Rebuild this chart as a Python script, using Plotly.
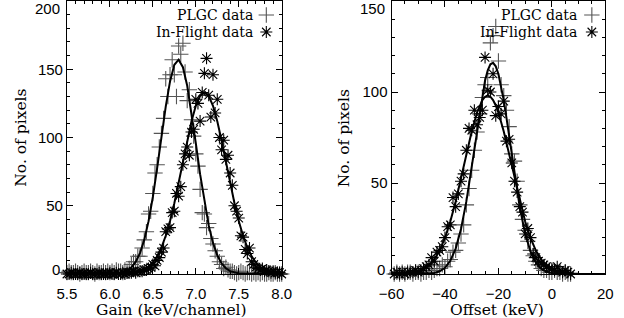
import plotly.graph_objects as go

# ---------------- data: left panel (gain) ----------------
gain_bins = [5.5, 5.525, 5.55, 5.575, 5.6, 5.625, 5.65, 5.675, 5.7, 5.725, 5.75, 5.775, 5.8, 5.825, 5.85,
             5.875, 5.9, 5.925, 5.95, 5.975, 6.0, 6.025, 6.05, 6.075, 6.1, 6.125, 6.15, 6.175, 6.2, 6.225,
             6.25, 6.275, 6.3, 6.325, 6.35, 6.375, 6.4, 6.425, 6.45, 6.475, 6.5, 6.525, 6.55, 6.575, 6.6,
             6.625, 6.65, 6.675, 6.7, 6.725, 6.75, 6.775, 6.8, 6.825, 6.85, 6.875, 6.9, 6.925, 6.95, 6.975,
             7.0, 7.025, 7.05, 7.075, 7.1, 7.125, 7.15, 7.175, 7.2, 7.225, 7.25, 7.275, 7.3, 7.325, 7.35,
             7.375, 7.4, 7.425, 7.45, 7.475, 7.5, 7.525, 7.55, 7.575, 7.6, 7.625, 7.65, 7.675, 7.7, 7.725,
             7.75, 7.775, 7.8, 7.825, 7.85, 7.875, 7.9, 7.925, 7.95, 7.975, 8.0]

gain_plgc = [1, 2, 1, 1, 2, 1, 0, 1, 2, 1, 1, 2, 1, 0, 2, 1, 1, 2, 1, 2, 1, 2, 1, 3, 2,
             2, 1, 3, 2, 4, 7, 9, 9, 13, 13, 19, 25, 31,
             44, 46, 59, 74, 80, 93, 103, 114, 143, 130, 146, 157, 146,
             130, 167, 161, 169, 148, 127, 135, 113, 101, 88, 79, 62, 45,
             44, 34, 37, 26, 22, 17, 13, 9, 7, 4, 5, 3, 2,
             2, 1, 0, 1, 2, 1, 0, 1, 1, 0, 1, 0, 1, 0, 1, 0, 0, 1, 0, 0, 1, 0, 0, 0]

gain_flight = [0, 0, 1, 0, 0, 0, 1, 0, 0, 0, 0, 1, 0, 0, 0, 1, 0, 0, 0, 0, 1, 0, 0, 1, 0, 0, 1, 0, 1,
               1, 1, 2, 1, 2, 2, 2, 3, 3, 4, 5, 7, 6,
               10, 12, 16, 19, 31, 33, 34, 45, 46, 59, 57, 64, 80,
               88, 93, 87, 104, 106, 128, 125, 112, 133, 147, 158, 131, 115,
               146, 118, 128, 100, 91, 98, 84, 87, 74, 65, 50, 46, 41,
               28, 27, 18, 15, 19, 9, 7, 5, 4, 3, 4, 2, 3,
               2, 1, 2, 1, 1, 1, 0]

# fitted curves
gain_fit_plgc_x = [5.5, 5.8, 6.0, 6.1, 6.15, 6.2, 6.25, 6.3, 6.35, 6.4, 6.45, 6.5, 6.55, 6.6, 6.65, 6.7,
                   6.75, 6.8, 6.85, 6.9, 6.95, 7.0, 7.05, 7.1, 7.15, 7.2, 7.25, 7.3, 7.35, 7.4, 7.45,
                   7.5, 7.6, 7.8, 8.0]
gain_fit_plgc_y = [0, 0, 0.1, 0.5, 1.2, 2.4, 4.8, 8.8, 15.3, 25.0, 38.7, 56.4, 77.5, 100.4, 122.6, 141.1,
                   153.3, 157.0, 151.5, 137.9, 118.3, 95.8, 73.1, 52.6, 35.6, 22.8, 13.7, 7.8, 4.2, 2.1,
                   1.0, 0.45, 0.08, 0, 0]
gain_fit_flight_x = [5.5, 6.0, 6.2, 6.3, 6.35, 6.4, 6.45, 6.5, 6.55, 6.6, 6.65, 6.7, 6.75, 6.8, 6.85,
                     6.9, 6.95, 7.0, 7.05, 7.1, 7.15, 7.2, 7.25, 7.3, 7.35, 7.4, 7.45, 7.5, 7.55, 7.6,
                     7.65, 7.7, 7.75, 7.8, 7.85, 7.9, 8.0]
gain_fit_flight_y = [0, 0.02, 0.26, 0.97, 1.76, 3.07, 5.16, 8.34, 12.98, 19.4, 28.0, 38.8, 51.8, 66.6,
                     82.2, 97.8, 111.9, 123.2, 130.5, 133.0, 130.5, 123.2, 111.9, 97.8, 82.2, 66.6,
                     51.8, 38.8, 28.0, 19.4, 12.98, 8.34, 5.16, 3.07, 1.76, 0.97, 0.26]

# ---------------- data: right panel (offset) ----------------
offset_bins = [-59, -58, -57, -56, -55, -54, -53, -52, -51, -50, -49, -48, -47, -46, -45,
               -44, -43, -42, -41, -40, -39, -38, -37, -36, -35, -34, -33, -32, -31, -30,
               -29, -28, -27, -26, -25, -24, -23, -22, -21, -20, -19, -18, -17, -16, -15,
               -14, -13, -12, -11, -10, -9, -8, -7, -6, -5, -4, -3, -2, -1, 0,
               1, 2, 3, 4, 5, 6, 7]

offset_plgc = [0, 1, 0, 1, 0, 1, 1, 0, 1, 1, 0, 1, 1, 2, 1,
               2, 3, 3, 5, 4, 7, 8, 12, 13, 17, 22, 27, 38, 47, 57,
               68, 78, 88, 97, 104, 108, 127, 131, 136, 117, 104, 98, 90, 81, 66,
               62, 51, 38, 30, 24, 18, 13, 10, 7, 5, 3, 2, 2, 1, 1,
               2, 1, 1, 0, 1, 0, 0]

offset_flight = [0, 1, 0, 1, 0, 1, 1, 1, 2, 1, 2, 3, 4, 5, 9,
                 7, 12, 13, 15, 20, 26, 27, 42, 37, 44, 51, 55, 68, 80, 79,
                 90, 82, 86, 90, 119, 101, 100, 110, 87, 92, 88, 95, 73, 74, 61,
                 51, 45, 37, 34, 22, 25, 20, 11, 9, 7, 6, 5, 4, 3, 3,
                 2, 4, 2, 1, 2, 1, 0]

offset_fit_plgc_x = [-60, -50, -48, -46, -44, -42, -40, -38, -36, -34, -32, -30, -28, -27, -26,
                     -25, -24, -23, -22, -21, -20, -19, -18, -17, -16, -14, -12, -10, -8, -6, -4,
                     -2, 0, 2, 4, 6, 20]
offset_fit_plgc_y = [0, 0.02, 0.07, 0.21, 0.59, 1.49, 3.43, 7.24, 13.98, 24.7, 39.9, 59.0, 79.8,
                     89.8, 98.8, 106.3, 111.9, 115.2, 116.0, 114.1, 109.9, 103.5, 95.4, 85.9, 75.7,
                     54.9, 36.5, 22.2, 12.3, 6.28, 2.92, 1.25, 0.48, 0.17, 0.06, 0.02, 0]
offset_fit_flight_x = [-60, -56, -52, -50, -48, -46, -44, -42, -40, -38, -36, -34, -32, -30, -28,
                       -27, -26, -25, -24, -23, -22, -21, -20, -18, -16, -14, -12, -10, -8, -6, -4,
                       -2, 0, 2, 4, 6, 8, 10, 20]
offset_fit_flight_y = [0.03, 0.16, 0.73, 1.43, 2.68, 4.76, 8.05, 12.9, 19.8, 28.8, 39.8, 52.5, 65.7,
                       78.3, 88.7, 92.6, 95.6, 97.4, 98.0, 97.4, 95.6, 92.6, 88.7, 78.3, 65.7, 52.5,
                       39.8, 28.8, 19.8, 12.9, 8.05, 4.76, 2.68, 1.43, 0.73, 0.35, 0.16, 0.07, 0]

gain_ticks = [5.5, 6.0, 6.5, 7.0, 7.5, 8.0]
gain_ticktext = ["5.5", "6.0", "6.5", "7.0", "7.5", "8.0"]
offset_ticks = [-60, -40, -20, 0, 20]
offset_ticktext = ["\u221260", "\u221240", "\u221220", "0", "20"]
left_yticks = [0, 50, 100, 150, 200]
left_yticktext = ["", "50", "100", "150", ""]
right_yticks = [0, 50, 100, 150]
right_yticktext = ["", "50", "100", ""]

legend_labels = ["PLGC data", "In-Flight data"]

# ---------------- styles ----------------
TICKFONT = dict(family="Liberation Sans", size=15, color="black")
TITLEFONT = dict(family="DejaVu Serif", size=15.5, color="black")
LEGFONT = dict(family="DejaVu Serif", size=14, color="black")
PLUS = dict(symbol="cross-thin-open", size=11, color="#555555", line=dict(width=1.1, color="#555555"))
STAR = dict(symbol="asterisk-open", size=10, color="black", line=dict(width=1.1, color="black"))
FITLINE = dict(color="black", width=2)

fig = go.Figure()

# left panel
fig.add_trace(go.Scatter(x=gain_bins, y=gain_plgc, mode="markers", marker=PLUS,
                         xaxis="x", yaxis="y", showlegend=False, cliponaxis=False))
fig.add_trace(go.Scatter(x=gain_bins, y=gain_flight, mode="markers", marker=STAR,
                         xaxis="x", yaxis="y", showlegend=False, cliponaxis=False))
fig.add_trace(go.Scatter(x=gain_fit_plgc_x, y=gain_fit_plgc_y, mode="lines", line=FITLINE,
                         xaxis="x", yaxis="y", showlegend=False))
fig.add_trace(go.Scatter(x=gain_fit_flight_x, y=gain_fit_flight_y, mode="lines", line=FITLINE,
                         xaxis="x", yaxis="y", showlegend=False))

# right panel
fig.add_trace(go.Scatter(x=offset_bins, y=offset_plgc, mode="markers", marker=PLUS,
                         xaxis="x2", yaxis="y2", showlegend=False, cliponaxis=False))
fig.add_trace(go.Scatter(x=offset_bins, y=offset_flight, mode="markers", marker=STAR,
                         xaxis="x2", yaxis="y2", showlegend=False, cliponaxis=False))
fig.add_trace(go.Scatter(x=offset_fit_plgc_x, y=offset_fit_plgc_y, mode="lines", line=FITLINE,
                         xaxis="x2", yaxis="y2", showlegend=False))
fig.add_trace(go.Scatter(x=offset_fit_flight_x, y=offset_fit_flight_y, mode="lines", line=FITLINE,
                         xaxis="x2", yaxis="y2", showlegend=False))

# legend keys (pixel overlay axes)
fig.add_trace(go.Scatter(x=[263, 601], y=[15, 15], mode="markers", marker=PLUS,
                         xaxis="x3", yaxis="y3", showlegend=False, cliponaxis=False))
fig.add_trace(go.Scatter(x=[263, 601], y=[32, 32], mode="markers", marker=STAR,
                         xaxis="x3", yaxis="y3", showlegend=False, cliponaxis=False))

W, H = 624, 318
ax_common = dict(showline=True, linecolor="black", linewidth=1, mirror="ticks", ticks="inside",
                 tickcolor="black", tickwidth=1, ticklen=6, showgrid=False, zeroline=False,
                 tickfont=TICKFONT, tickmode="array")

fig.update_layout(
    width=W, height=H, margin=dict(l=0, r=0, t=0, b=0),
    paper_bgcolor="white", plot_bgcolor="rgba(0,0,0,0)", showlegend=False,
    xaxis=dict(domain=[56 / W, 279 / W], range=[5.5, 8.0], anchor="y",
               tickvals=gain_ticks, ticktext=gain_ticktext, ticklabelstandoff=6,
               minor=dict(ticks="inside", ticklen=3, dtick=0.1, tick0=5.5, tickcolor="black", showgrid=False),
               **ax_common),
    yaxis=dict(domain=[(H - 274) / H, (H - 1) / H], range=[0, 200], anchor="x",
               tickvals=left_yticks, ticktext=left_yticktext,
               minor=dict(ticks="inside", ticklen=3, dtick=10, tick0=0, tickcolor="black", showgrid=False),
               **ax_common),
    xaxis2=dict(domain=[393 / W, 615 / W], range=[-60, 20], anchor="y2",
                tickvals=offset_ticks, ticktext=offset_ticktext, ticklabelstandoff=6,
                minor=dict(ticks="inside", ticklen=3, dtick=5, tick0=0, tickcolor="black", showgrid=False),
                **ax_common),
    yaxis2=dict(domain=[(H - 274) / H, (H - 1) / H], range=[0, 150], anchor="x2",
                tickvals=right_yticks, ticktext=right_yticktext,
                minor=dict(ticks="inside", ticklen=3, dtick=10, tick0=0, tickcolor="black", showgrid=False),
                **ax_common),
    xaxis3=dict(domain=[0, 1], range=[0, W], visible=False, anchor="y3", fixedrange=True),
    yaxis3=dict(domain=[0, 1], range=[H, 0], visible=False, anchor="x3", fixedrange=True),
)

ann = []
# end tick labels (drawn inward as in the reference)
for yref, xdom, yv, sh in [("y", "x domain", 0, 5), ("y", "x domain", 200, -7),
                           ("y2", "x2 domain", 0, 5), ("y2", "x2 domain", 150, -7)]:
    ann.append(dict(xref=xdom, x=0, xanchor="right", xshift=-5, yref=yref, y=yv, yanchor="middle",
                    yshift=sh, text=str(yv), showarrow=False, font=TICKFONT))
# axis titles
ann.append(dict(xref="x3", yref="y3", x=165, y=310, text="Gain (keV/channel)", showarrow=False,
                font=TITLEFONT, xanchor="center", yanchor="middle"))
ann.append(dict(xref="x3", yref="y3", x=503, y=310, text="Offset (keV)", showarrow=False,
                font=TITLEFONT, xanchor="center", yanchor="middle"))
ann.append(dict(xref="x3", yref="y3", x=8, y=138, text="No. of pixels", showarrow=False,
                font=TITLEFONT, textangle=-90, xanchor="center", yanchor="middle"))
ann.append(dict(xref="x3", yref="y3", x=344, y=138, text="No. of pixels", showarrow=False,
                font=TITLEFONT, textangle=-90, xanchor="center", yanchor="middle"))
# legend labels
for xr in (251, 588):
    ann.append(dict(xref="x3", yref="y3", x=xr, y=15, text=legend_labels[0], showarrow=False,
                    font=LEGFONT, xanchor="right", yanchor="middle"))
    ann.append(dict(xref="x3", yref="y3", x=xr, y=32, text=legend_labels[1], showarrow=False,
                    font=LEGFONT, xanchor="right", yanchor="middle"))
fig.update_layout(annotations=ann)

fig.write_html("out.html", config={"displayModeBar": False},
               post_script="document.body.style.margin='0';document.body.style.overflow='hidden';")
